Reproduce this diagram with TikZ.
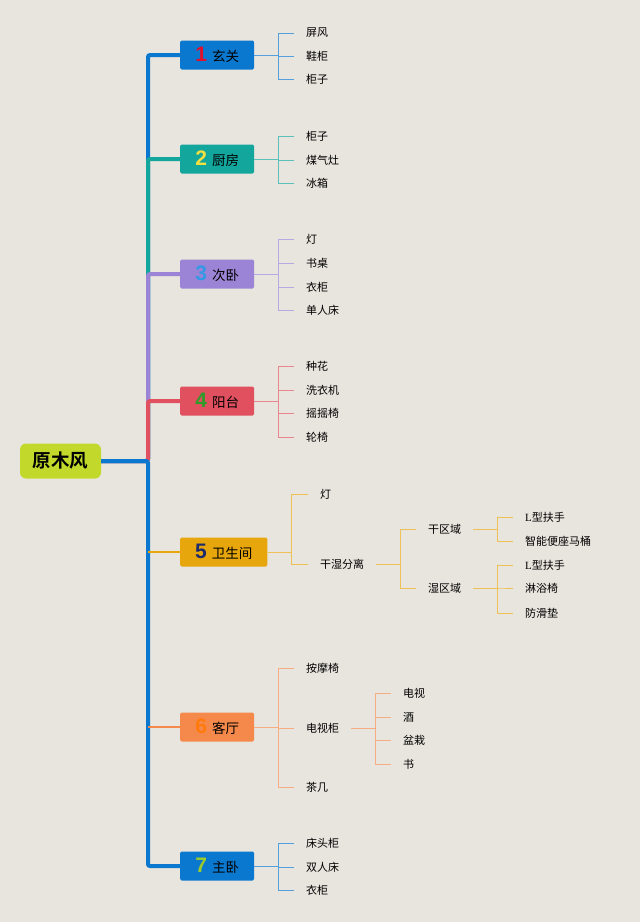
\documentclass[tikz,border=0pt]{standalone}
\usepackage{fontspec}
\setmainfont{Noto Sans CJK SC}[BoldFont={Noto Sans CJK SC Bold}]
\newfontfamily\numfont{Liberation Sans}
\newfontfamily\latfont{Liberation Serif}
\usepackage{tikz}

\definecolor{bg}{HTML}{E8E5DE}
\definecolor{lime}{HTML}{C2D92B}
\definecolor{cblue}{HTML}{0B78CF}
\definecolor{cteal}{HTML}{13A69D}
\definecolor{cpurple}{HTML}{9B84D5}
\definecolor{cred}{HTML}{E0505F}
\definecolor{cgold}{HTML}{E6A60C}
\definecolor{corange}{HTML}{F5894B}
% number colours
\definecolor{nred}{HTML}{E0102A}
\definecolor{nyellow}{HTML}{F2E040}
\definecolor{nblue}{HTML}{3399E6}
\definecolor{ngreen}{HTML}{2E9B2A}
\definecolor{nnavy}{HTML}{1E2C6B}
\definecolor{norange}{HTML}{FF7A0A}
\definecolor{nlime}{HTML}{9CCB2C}

\newcommand{\roomno}[2]{{\numfont\bfseries\fontsize{21}{21}\selectfont\color{#1}#2}\hspace{5pt}}

\begin{document}
\begin{tikzpicture}[x=1pt, y=-1pt,
  rootbox/.style={fill=lime, minimum width=81pt, minimum height=35pt, rounded corners=6pt,
    font=\bfseries\fontsize{18.5}{20}\selectfont},
  room/.style={fill=#1, minimum width=74pt, minimum height=29pt, inner xsep=15pt,
    rounded corners=1.5pt, anchor=west, font=\fontsize{13.5}{16}\selectfont},
  item/.style={anchor=west, inner xsep=12pt, inner ysep=2pt, font=\fontsize{11}{13}\selectfont},
  trunk/.style={line width=4pt, rounded corners=2pt, #1},
  twig/.style={line width=1pt, #1!70!white}]
  \fill[bg] (0,0) rectangle (640,922);

  \node[rootbox] (root) at (60.5,461) {原木风};
  \coordinate (hub) at (148,461);

  % rooms
  \node[room=cblue]   (b1) at (180,55)  {\roomno{nred}{1}玄关};
  \node[room=cteal]   (b2) at (180,159) {\roomno{nyellow}{2}厨房};
  \node[room=cpurple] (b3) at (180,274) {\roomno{nblue}{3}次卧};
  \node[room=cred]    (b4) at (180,401) {\roomno{ngreen}{4}阳台};
  \node[room=cgold]   (b5) at (180,552) {\roomno{nnavy}{5}卫生间};
  \node[room=corange] (b6) at (180,727) {\roomno{norange}{6}客厅};
  \node[room=cblue]   (b7) at (180,866) {\roomno{nlime}{7}主卧};

  % trunk, upper branches drawn from the top down so they overlap
  \foreach \b/\c in {b1/cblue, b2/cteal, b3/cpurple, b4/cred}
    \draw[trunk=\c] (root.east) -- (hub) |- (\b.west);
  \draw[trunk=cblue] (root.east) -- (hub) |- (b7.west);
  \draw[line width=1.5pt, cgold] (hub |- b5.west) -- (b5.west);
  \draw[line width=1.5pt, corange] (hub |- b6.west) -- (b6.west);

  % 1 玄关
  \node[item] (a1) at (294,33) {屏风};
  \node[item] (a2) at (294,56) {鞋柜};
  \node[item] (a3) at (294,79) {柜子};
  \foreach \c in {a1,a2,a3} \draw[twig=cblue] (b1.east) -- ++(24,0) |- (\c.west);

  % 2 厨房
  \node[item] (k1) at (294,136) {柜子};
  \node[item] (k2) at (294,160) {煤气灶};
  \node[item] (k3) at (294,183) {冰箱};
  \foreach \c in {k1,k2,k3} \draw[twig=cteal] (b2.east) -- ++(24,0) |- (\c.west);

  % 3 次卧
  \node[item] (s1) at (294,239) {灯};
  \node[item] (s2) at (294,263) {书桌};
  \node[item] (s3) at (294,287) {衣柜};
  \node[item] (s4) at (294,310) {单人床};
  \foreach \c in {s1,s2,s3,s4} \draw[twig=cpurple] (b3.east) -- ++(24,0) |- (\c.west);

  % 4 阳台
  \node[item] (y1) at (294,366) {种花};
  \node[item] (y2) at (294,390) {洗衣机};
  \node[item] (y3) at (294,413) {摇摇椅};
  \node[item] (y4) at (294,437) {轮椅};
  \foreach \c in {y1,y2,y3,y4} \draw[twig=cred] (b4.east) -- ++(24,0) |- (\c.west);

  % 5 卫生间
  \node[item] (w1) at (308,494) {灯};
  \node[item] (w2) at (308,564) {干湿分离};
  \foreach \c in {w1,w2} \draw[twig=cgold] (b5.east) -- ++(24,0) |- (\c.west);
  \node[item] (dry) at (416,529) {干区域};
  \node[item] (wet) at (416,588) {湿区域};
  \foreach \c in {dry,wet} \draw[twig=cgold] (w2.east) -- ++(24,0) |- (\c.west);
  \node[item] (d1) at (513,517) {{\latfont L}型扶手};
  \node[item] (d2) at (513,541) {智能便座马桶};
  \foreach \c in {d1,d2} \draw[twig=cgold] (dry.east) -- ++(24,0) |- (\c.west);
  \node[item] (e1) at (513,565) {{\latfont L}型扶手};
  \node[item] (e2) at (513,588) {淋浴椅};
  \node[item] (e3) at (513,613) {防滑垫};
  \foreach \c in {e1,e2,e3} \draw[twig=cgold] (wet.east) -- ++(24,0) |- (\c.west);

  % 6 客厅
  \node[item] (h1) at (294,668) {按摩椅};
  \node[item] (h2) at (294,728) {电视柜};
  \node[item] (h3) at (294,787) {茶几};
  \foreach \c in {h1,h2,h3} \draw[twig=corange] (b6.east) -- ++(24,0) |- (\c.west);
  \node[item] (t1) at (391,693) {电视};
  \node[item] (t2) at (391,717) {酒};
  \node[item] (t3) at (391,740) {盆栽};
  \node[item] (t4) at (391,764) {书};
  \foreach \c in {t1,t2,t3,t4} \draw[twig=corange] (h2.east) -- ++(24,0) |- (\c.west);

  % 7 主卧
  \node[item] (m1) at (294,843) {床头柜};
  \node[item] (m2) at (294,867) {双人床};
  \node[item] (m3) at (294,890) {衣柜};
  \foreach \c in {m1,m2,m3} \draw[twig=cblue] (b7.east) -- ++(24,0) |- (\c.west);
\end{tikzpicture}
\end{document}
